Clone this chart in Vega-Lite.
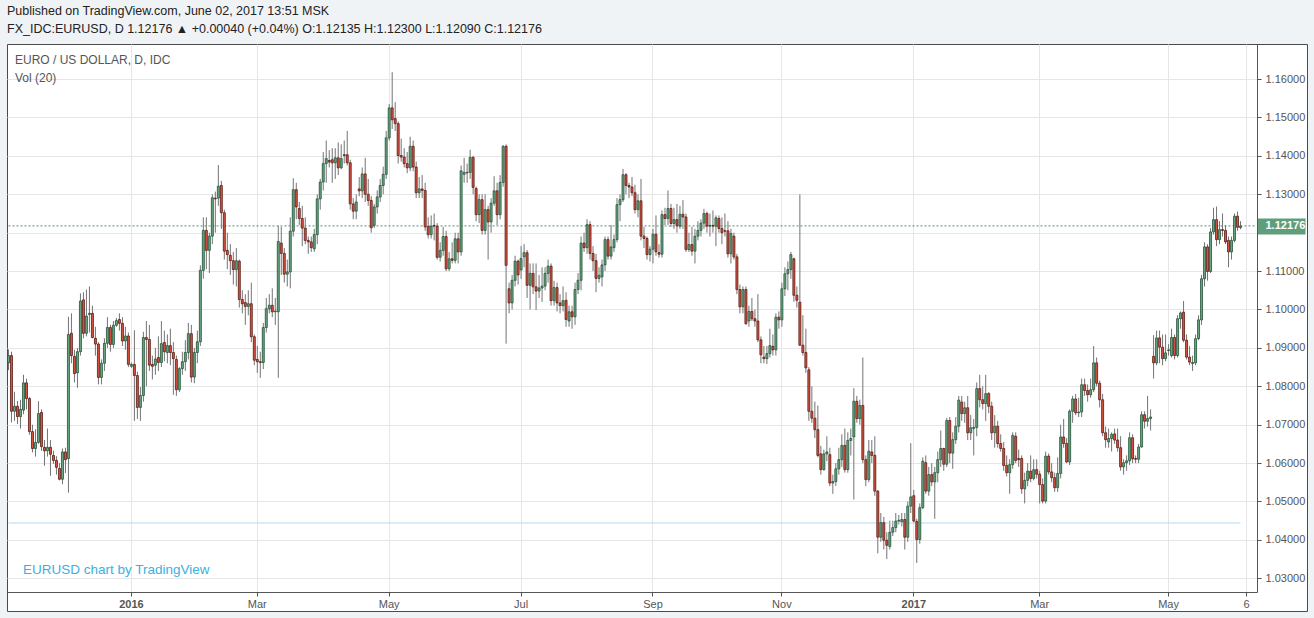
{
"$schema":"https://vega.github.io/schema/vega-lite/v6.json",
"width":1300,"height":567,
"autosize":{"type":"none"},
"padding":{"left":7,"top":44,"right":7,"bottom":7},
"background":"#f0f3f6",
"title":{"text":"Published on TradingView.com, June 02, 2017 13:51 MSK","subtitle":"FX_IDC:EURUSD, D  1.12176 ▲ +0.00040 (+0.04%)  O:1.12135  H:1.12300  L:1.12090  C:1.12176","anchor":"start","frame":"group","offset":9,"font":"Liberation Sans","fontSize":12.5,"fontWeight":"normal","color":"#222222","subtitleFont":"Liberation Sans","subtitleFontSize":12.5,"subtitleColor":"#222222","subtitlePadding":5},
"config":{"view":{"stroke":"#4a4a4a","fill":"#ffffff"}},
"resolve":{"axis":{"x":"independent","y":"independent"}},
"data":{"values":[
{"d":"2015-11-05","o":1.0861,"h":1.0896,"l":1.0842,"c":1.0880},
{"d":"2015-11-06","o":1.0880,"h":1.0890,"l":1.0706,"c":1.0735},
{"d":"2015-11-09","o":1.0735,"h":1.0786,"l":1.0710,"c":1.0748},
{"d":"2015-11-10","o":1.0748,"h":1.0762,"l":1.0702,"c":1.0721},
{"d":"2015-11-11","o":1.0721,"h":1.0765,"l":1.0690,"c":1.0740},
{"d":"2015-11-12","o":1.0738,"h":1.0830,"l":1.0727,"c":1.0809},
{"d":"2015-11-13","o":1.0809,"h":1.0820,"l":1.0740,"c":1.0768},
{"d":"2015-11-16","o":1.0768,"h":1.0772,"l":1.0674,"c":1.0682},
{"d":"2015-11-17","o":1.0682,"h":1.0700,"l":1.0628,"c":1.0638},
{"d":"2015-11-18","o":1.0638,"h":1.0688,"l":1.0617,"c":1.0654},
{"d":"2015-11-19","o":1.0654,"h":1.0761,"l":1.0650,"c":1.0729},
{"d":"2015-11-20","o":1.0732,"h":1.0740,"l":1.0632,"c":1.0643},
{"d":"2015-11-23","o":1.0641,"h":1.0660,"l":1.0593,"c":1.0632},
{"d":"2015-11-24","o":1.0632,"h":1.0690,"l":1.0617,"c":1.0641},
{"d":"2015-11-25","o":1.0641,"h":1.0660,"l":1.0567,"c":1.0623},
{"d":"2015-11-26","o":1.0620,"h":1.0632,"l":1.0598,"c":1.0607},
{"d":"2015-11-27","o":1.0607,"h":1.0618,"l":1.0570,"c":1.0589},
{"d":"2015-11-30","o":1.0586,"h":1.0600,"l":1.0555,"c":1.0558},
{"d":"2015-12-01","o":1.0558,"h":1.0638,"l":1.0545,"c":1.0629},
{"d":"2015-12-02","o":1.0629,"h":1.0640,"l":1.0574,"c":1.0609},
{"d":"2015-12-03","o":1.0612,"h":1.0981,"l":1.0523,"c":1.0935},
{"d":"2015-12-04","o":1.0938,"h":1.0990,"l":1.0860,"c":1.0880},
{"d":"2015-12-07","o":1.0878,"h":1.0895,"l":1.0810,"c":1.0833},
{"d":"2015-12-08","o":1.0835,"h":1.0900,"l":1.0796,"c":1.0890},
{"d":"2015-12-09","o":1.0890,"h":1.1042,"l":1.0880,"c":1.1022},
{"d":"2015-12-10","o":1.1025,"h":1.1045,"l":1.0925,"c":1.0938},
{"d":"2015-12-11","o":1.0938,"h":1.1052,"l":1.0930,"c":1.0983},
{"d":"2015-12-14","o":1.0987,"h":1.1060,"l":1.0940,"c":1.0990},
{"d":"2015-12-15","o":1.0990,"h":1.1010,"l":1.0925,"c":1.0927},
{"d":"2015-12-16","o":1.0925,"h":1.0955,"l":1.0880,"c":1.0910},
{"d":"2015-12-17","o":1.0910,"h":1.0915,"l":1.0805,"c":1.0823},
{"d":"2015-12-18","o":1.0823,"h":1.0870,"l":1.0805,"c":1.0860},
{"d":"2015-12-21","o":1.0860,"h":1.0925,"l":1.0840,"c":1.0912},
{"d":"2015-12-22","o":1.0912,"h":1.0980,"l":1.0900,"c":1.0953},
{"d":"2015-12-23","o":1.0953,"h":1.0960,"l":1.0890,"c":1.0909},
{"d":"2015-12-24","o":1.0909,"h":1.0970,"l":1.0900,"c":1.0959},
{"d":"2015-12-25","o":1.0959,"h":1.0978,"l":1.0955,"c":1.0971},
{"d":"2015-12-28","o":1.0974,"h":1.0990,"l":1.0945,"c":1.0964},
{"d":"2015-12-29","o":1.0964,"h":1.0980,"l":1.0905,"c":1.0918},
{"d":"2015-12-30","o":1.0918,"h":1.0955,"l":1.0895,"c":1.0931},
{"d":"2015-12-31","o":1.0931,"h":1.0940,"l":1.0850,"c":1.0857},
{"d":"2016-01-01","o":1.0852,"h":1.0862,"l":1.0848,"c":1.0857},
{"d":"2016-01-04","o":1.0857,"h":1.0946,"l":1.0710,"c":1.0828},
{"d":"2016-01-05","o":1.0828,"h":1.0838,"l":1.0715,"c":1.0745},
{"d":"2016-01-06","o":1.0745,"h":1.0798,"l":1.0710,"c":1.0776},
{"d":"2016-01-07","o":1.0776,"h":1.0942,"l":1.0760,"c":1.0927},
{"d":"2016-01-08","o":1.0927,"h":1.0970,"l":1.0800,"c":1.0922},
{"d":"2016-01-11","o":1.0922,"h":1.0960,"l":1.0840,"c":1.0855},
{"d":"2016-01-12","o":1.0857,"h":1.0880,"l":1.0818,"c":1.0852},
{"d":"2016-01-13","o":1.0855,"h":1.0900,"l":1.0830,"c":1.0871},
{"d":"2016-01-14","o":1.0875,"h":1.0930,"l":1.0840,"c":1.0862},
{"d":"2016-01-15","o":1.0862,"h":1.0970,"l":1.0850,"c":1.0911},
{"d":"2016-01-18","o":1.0914,"h":1.0945,"l":1.0865,"c":1.0890},
{"d":"2016-01-19","o":1.0888,"h":1.0935,"l":1.0860,"c":1.0906},
{"d":"2016-01-20","o":1.0906,"h":1.0950,"l":1.0855,"c":1.0888},
{"d":"2016-01-21","o":1.0888,"h":1.0915,"l":1.0778,"c":1.0872},
{"d":"2016-01-22","o":1.0870,"h":1.0880,"l":1.0775,"c":1.0791},
{"d":"2016-01-25","o":1.0791,"h":1.0850,"l":1.0785,"c":1.0846},
{"d":"2016-01-26","o":1.0846,"h":1.0890,"l":1.0830,"c":1.0864},
{"d":"2016-01-27","o":1.0864,"h":1.0920,"l":1.0840,"c":1.0888},
{"d":"2016-01-28","o":1.0888,"h":1.0965,"l":1.0870,"c":1.0937},
{"d":"2016-01-29","o":1.0937,"h":1.0960,"l":1.0810,"c":1.0824},
{"d":"2016-02-01","o":1.0824,"h":1.0900,"l":1.0808,"c":1.0888},
{"d":"2016-02-02","o":1.0888,"h":1.0945,"l":1.0860,"c":1.0916},
{"d":"2016-02-03","o":1.0916,"h":1.1115,"l":1.0905,"c":1.1102},
{"d":"2016-02-04","o":1.1102,"h":1.1240,"l":1.1080,"c":1.1206},
{"d":"2016-02-05","o":1.1206,"h":1.1240,"l":1.1105,"c":1.1154},
{"d":"2016-02-08","o":1.1154,"h":1.1200,"l":1.1095,"c":1.1191},
{"d":"2016-02-09","o":1.1191,"h":1.1300,"l":1.1170,"c":1.1291},
{"d":"2016-02-10","o":1.1290,"h":1.1307,"l":1.1200,"c":1.1288},
{"d":"2016-02-11","o":1.1290,"h":1.1376,"l":1.1270,"c":1.1321},
{"d":"2016-02-12","o":1.1323,"h":1.1335,"l":1.1210,"c":1.1252},
{"d":"2016-02-15","o":1.1252,"h":1.1260,"l":1.1130,"c":1.1152},
{"d":"2016-02-16","o":1.1154,"h":1.1200,"l":1.1105,"c":1.1143},
{"d":"2016-02-17","o":1.1141,"h":1.1170,"l":1.1090,"c":1.1127},
{"d":"2016-02-18","o":1.1127,"h":1.1150,"l":1.1065,"c":1.1104},
{"d":"2016-02-19","o":1.1104,"h":1.1160,"l":1.1060,"c":1.1127},
{"d":"2016-02-22","o":1.1126,"h":1.1130,"l":1.1005,"c":1.1026},
{"d":"2016-02-23","o":1.1026,"h":1.1050,"l":1.0990,"c":1.1015},
{"d":"2016-02-24","o":1.1018,"h":1.1040,"l":1.0960,"c":1.1008},
{"d":"2016-02-25","o":1.1008,"h":1.1050,"l":1.0985,"c":1.1015},
{"d":"2016-02-26","o":1.1015,"h":1.1070,"l":1.0915,"c":1.0929},
{"d":"2016-02-29","o":1.0929,"h":1.0935,"l":1.0855,"c":1.0868},
{"d":"2016-03-01","o":1.0870,"h":1.0905,"l":1.0835,"c":1.0864},
{"d":"2016-03-02","o":1.0864,"h":1.0890,"l":1.0822,"c":1.0862},
{"d":"2016-03-03","o":1.0862,"h":1.0965,"l":1.0845,"c":1.0953},
{"d":"2016-03-04","o":1.0953,"h":1.1030,"l":1.0940,"c":1.1002},
{"d":"2016-03-07","o":1.1002,"h":1.1040,"l":1.0990,"c":1.1011},
{"d":"2016-03-08","o":1.1011,"h":1.1055,"l":1.0980,"c":1.0994},
{"d":"2016-03-09","o":1.0994,"h":1.1030,"l":1.0960,"c":1.0996},
{"d":"2016-03-10","o":1.0994,"h":1.1218,"l":1.0822,"c":1.1177},
{"d":"2016-03-11","o":1.1173,"h":1.1215,"l":1.1090,"c":1.1146},
{"d":"2016-03-14","o":1.1146,"h":1.1160,"l":1.1070,"c":1.1092},
{"d":"2016-03-15","o":1.1092,"h":1.1130,"l":1.1060,"c":1.1098},
{"d":"2016-03-16","o":1.1098,"h":1.1240,"l":1.1055,"c":1.1204},
{"d":"2016-03-17","o":1.1204,"h":1.1342,"l":1.1190,"c":1.1312},
{"d":"2016-03-18","o":1.1312,"h":1.1330,"l":1.1235,"c":1.1267},
{"d":"2016-03-21","o":1.1263,"h":1.1280,"l":1.1220,"c":1.1237},
{"d":"2016-03-22","o":1.1237,"h":1.1270,"l":1.1165,"c":1.1212},
{"d":"2016-03-23","o":1.1212,"h":1.1240,"l":1.1170,"c":1.1180},
{"d":"2016-03-24","o":1.1180,"h":1.1190,"l":1.1145,"c":1.1176},
{"d":"2016-03-25","o":1.1176,"h":1.1190,"l":1.1150,"c":1.1161},
{"d":"2016-03-28","o":1.1158,"h":1.1210,"l":1.1150,"c":1.1195},
{"d":"2016-03-29","o":1.1195,"h":1.1300,"l":1.1170,"c":1.1288},
{"d":"2016-03-30","o":1.1288,"h":1.1340,"l":1.1260,"c":1.1332},
{"d":"2016-03-31","o":1.1332,"h":1.1410,"l":1.1310,"c":1.1380},
{"d":"2016-04-01","o":1.1380,"h":1.1440,"l":1.1330,"c":1.1393},
{"d":"2016-04-04","o":1.1388,"h":1.1415,"l":1.1370,"c":1.1384},
{"d":"2016-04-05","o":1.1390,"h":1.1420,"l":1.1330,"c":1.1382},
{"d":"2016-04-06","o":1.1382,"h":1.1420,"l":1.1340,"c":1.1395},
{"d":"2016-04-07","o":1.1395,"h":1.1435,"l":1.1350,"c":1.1369},
{"d":"2016-04-08","o":1.1369,"h":1.1430,"l":1.1365,"c":1.1393},
{"d":"2016-04-11","o":1.1403,"h":1.1440,"l":1.1380,"c":1.1401},
{"d":"2016-04-12","o":1.1403,"h":1.1465,"l":1.1375,"c":1.1382},
{"d":"2016-04-13","o":1.1382,"h":1.1390,"l":1.1260,"c":1.1275},
{"d":"2016-04-14","o":1.1275,"h":1.1290,"l":1.1235,"c":1.1256},
{"d":"2016-04-15","o":1.1256,"h":1.1300,"l":1.1235,"c":1.1280},
{"d":"2016-04-18","o":1.1314,"h":1.1345,"l":1.1295,"c":1.1309},
{"d":"2016-04-19","o":1.1309,"h":1.1370,"l":1.1290,"c":1.1353},
{"d":"2016-04-20","o":1.1353,"h":1.1395,"l":1.1280,"c":1.1300},
{"d":"2016-04-21","o":1.1300,"h":1.1340,"l":1.1270,"c":1.1284},
{"d":"2016-04-22","o":1.1284,"h":1.1295,"l":1.1200,"c":1.1213},
{"d":"2016-04-25","o":1.1219,"h":1.1275,"l":1.1212,"c":1.1267},
{"d":"2016-04-26","o":1.1267,"h":1.1310,"l":1.1250,"c":1.1293},
{"d":"2016-04-27","o":1.1293,"h":1.1340,"l":1.1280,"c":1.1323},
{"d":"2016-04-28","o":1.1323,"h":1.1372,"l":1.1300,"c":1.1352},
{"d":"2016-04-29","o":1.1352,"h":1.1465,"l":1.1340,"c":1.1447},
{"d":"2016-05-02","o":1.1447,"h":1.1535,"l":1.1440,"c":1.1525},
{"d":"2016-05-03","o":1.1525,"h":1.1618,"l":1.1470,"c":1.1494},
{"d":"2016-05-04","o":1.1497,"h":1.1540,"l":1.1465,"c":1.1484},
{"d":"2016-05-05","o":1.1484,"h":1.1490,"l":1.1380,"c":1.1401},
{"d":"2016-05-06","o":1.1401,"h":1.1445,"l":1.1385,"c":1.1397},
{"d":"2016-05-09","o":1.1397,"h":1.1420,"l":1.1370,"c":1.1380},
{"d":"2016-05-10","o":1.1380,"h":1.1410,"l":1.1355,"c":1.1369},
{"d":"2016-05-11","o":1.1369,"h":1.1450,"l":1.1360,"c":1.1425},
{"d":"2016-05-12","o":1.1425,"h":1.1440,"l":1.1360,"c":1.1371},
{"d":"2016-05-13","o":1.1371,"h":1.1385,"l":1.1290,"c":1.1304},
{"d":"2016-05-16","o":1.1304,"h":1.1345,"l":1.1290,"c":1.1314},
{"d":"2016-05-17","o":1.1314,"h":1.1350,"l":1.1290,"c":1.1310},
{"d":"2016-05-18","o":1.1310,"h":1.1330,"l":1.1205,"c":1.1215},
{"d":"2016-05-19","o":1.1216,"h":1.1240,"l":1.1185,"c":1.1195},
{"d":"2016-05-20","o":1.1195,"h":1.1245,"l":1.1185,"c":1.1217},
{"d":"2016-05-23","o":1.1219,"h":1.1250,"l":1.1180,"c":1.1217},
{"d":"2016-05-24","o":1.1217,"h":1.1225,"l":1.1130,"c":1.1136},
{"d":"2016-05-25","o":1.1136,"h":1.1175,"l":1.1125,"c":1.1154},
{"d":"2016-05-26","o":1.1154,"h":1.1215,"l":1.1140,"c":1.1190},
{"d":"2016-05-27","o":1.1190,"h":1.1205,"l":1.1100,"c":1.1106},
{"d":"2016-05-30","o":1.1106,"h":1.1150,"l":1.1100,"c":1.1132},
{"d":"2016-05-31","o":1.1132,"h":1.1175,"l":1.1120,"c":1.1128},
{"d":"2016-06-01","o":1.1128,"h":1.1200,"l":1.1120,"c":1.1184},
{"d":"2016-06-02","o":1.1184,"h":1.1200,"l":1.1120,"c":1.1150},
{"d":"2016-06-03","o":1.1150,"h":1.1375,"l":1.1140,"c":1.1361},
{"d":"2016-06-06","o":1.1352,"h":1.1395,"l":1.1330,"c":1.1357},
{"d":"2016-06-07","o":1.1357,"h":1.1380,"l":1.1330,"c":1.1356},
{"d":"2016-06-08","o":1.1357,"h":1.1416,"l":1.1340,"c":1.1396},
{"d":"2016-06-09","o":1.1396,"h":1.1400,"l":1.1300,"c":1.1318},
{"d":"2016-06-10","o":1.1315,"h":1.1320,"l":1.1230,"c":1.1247},
{"d":"2016-06-13","o":1.1247,"h":1.1300,"l":1.1225,"c":1.1286},
{"d":"2016-06-14","o":1.1286,"h":1.1300,"l":1.1195,"c":1.1206},
{"d":"2016-06-15","o":1.1206,"h":1.1300,"l":1.1195,"c":1.1260},
{"d":"2016-06-16","o":1.1260,"h":1.1270,"l":1.1130,"c":1.1228},
{"d":"2016-06-17","o":1.1228,"h":1.1290,"l":1.1200,"c":1.1277},
{"d":"2016-06-20","o":1.1277,"h":1.1347,"l":1.1270,"c":1.1309},
{"d":"2016-06-21","o":1.1309,"h":1.1330,"l":1.1220,"c":1.1247},
{"d":"2016-06-22","o":1.1247,"h":1.1350,"l":1.1235,"c":1.1331},
{"d":"2016-06-23","o":1.1331,"h":1.1428,"l":1.1320,"c":1.1425},
{"d":"2016-06-24","o":1.1425,"h":1.1430,"l":1.0911,"c":1.1115},
{"d":"2016-06-27","o":1.1054,"h":1.1070,"l":1.0990,"c":1.1017},
{"d":"2016-06-28","o":1.1017,"h":1.1090,"l":1.1000,"c":1.1076},
{"d":"2016-06-29","o":1.1076,"h":1.1140,"l":1.1060,"c":1.1126},
{"d":"2016-06-30","o":1.1126,"h":1.1130,"l":1.1065,"c":1.1090},
{"d":"2016-07-01","o":1.1103,"h":1.1165,"l":1.1080,"c":1.1133},
{"d":"2016-07-04","o":1.1137,"h":1.1170,"l":1.1110,"c":1.1148},
{"d":"2016-07-05","o":1.1148,"h":1.1155,"l":1.1030,"c":1.1063},
{"d":"2016-07-06","o":1.1063,"h":1.1120,"l":1.1000,"c":1.1094},
{"d":"2016-07-07","o":1.1094,"h":1.1120,"l":1.1040,"c":1.1059},
{"d":"2016-07-08","o":1.1059,"h":1.1120,"l":1.0999,"c":1.1048},
{"d":"2016-07-11","o":1.1048,"h":1.1090,"l":1.1030,"c":1.1056},
{"d":"2016-07-12","o":1.1056,"h":1.1110,"l":1.1020,"c":1.1061},
{"d":"2016-07-13","o":1.1061,"h":1.1110,"l":1.1050,"c":1.1094},
{"d":"2016-07-14","o":1.1094,"h":1.1130,"l":1.1070,"c":1.1113},
{"d":"2016-07-15","o":1.1113,"h":1.1120,"l":1.1010,"c":1.1023},
{"d":"2016-07-18","o":1.1023,"h":1.1075,"l":1.1010,"c":1.1057},
{"d":"2016-07-19","o":1.1057,"h":1.1070,"l":1.0995,"c":1.1017},
{"d":"2016-07-20","o":1.1017,"h":1.1040,"l":1.0990,"c":1.1010},
{"d":"2016-07-21","o":1.1010,"h":1.1060,"l":1.0995,"c":1.1023},
{"d":"2016-07-22","o":1.1024,"h":1.1045,"l":1.0955,"c":1.0974},
{"d":"2016-07-25","o":1.0970,"h":1.1010,"l":1.0955,"c":1.0994},
{"d":"2016-07-26","o":1.0994,"h":1.1010,"l":1.0950,"c":1.0981},
{"d":"2016-07-27","o":1.0981,"h":1.1070,"l":1.0960,"c":1.1052},
{"d":"2016-07-28","o":1.1052,"h":1.1095,"l":1.1040,"c":1.1076},
{"d":"2016-07-29","o":1.1076,"h":1.1190,"l":1.1050,"c":1.1173},
{"d":"2016-08-01","o":1.1173,"h":1.1200,"l":1.1150,"c":1.1161},
{"d":"2016-08-02","o":1.1161,"h":1.1235,"l":1.1145,"c":1.1221},
{"d":"2016-08-03","o":1.1221,"h":1.1230,"l":1.1130,"c":1.1146},
{"d":"2016-08-04","o":1.1146,"h":1.1165,"l":1.1100,"c":1.1127},
{"d":"2016-08-05","o":1.1127,"h":1.1145,"l":1.1045,"c":1.1081},
{"d":"2016-08-08","o":1.1081,"h":1.1110,"l":1.1070,"c":1.1089},
{"d":"2016-08-09","o":1.1085,"h":1.1130,"l":1.1060,"c":1.1116},
{"d":"2016-08-10","o":1.1116,"h":1.1190,"l":1.1100,"c":1.1182},
{"d":"2016-08-11","o":1.1182,"h":1.1190,"l":1.1130,"c":1.1139},
{"d":"2016-08-12","o":1.1139,"h":1.1220,"l":1.1130,"c":1.1163},
{"d":"2016-08-15","o":1.1161,"h":1.1195,"l":1.1150,"c":1.1182},
{"d":"2016-08-16","o":1.1182,"h":1.1290,"l":1.1175,"c":1.1273},
{"d":"2016-08-17","o":1.1273,"h":1.1300,"l":1.1230,"c":1.1286},
{"d":"2016-08-18","o":1.1286,"h":1.1366,"l":1.1280,"c":1.1351},
{"d":"2016-08-19","o":1.1351,"h":1.1355,"l":1.1300,"c":1.1323},
{"d":"2016-08-22","o":1.1323,"h":1.1330,"l":1.1290,"c":1.1319},
{"d":"2016-08-23","o":1.1319,"h":1.1345,"l":1.1295,"c":1.1304},
{"d":"2016-08-24","o":1.1304,"h":1.1325,"l":1.1250,"c":1.1260},
{"d":"2016-08-25","o":1.1260,"h":1.1300,"l":1.1240,"c":1.1283},
{"d":"2016-08-26","o":1.1283,"h":1.1340,"l":1.1180,"c":1.1191},
{"d":"2016-08-29","o":1.1191,"h":1.1215,"l":1.1160,"c":1.1185},
{"d":"2016-08-30","o":1.1185,"h":1.1190,"l":1.1130,"c":1.1143},
{"d":"2016-08-31","o":1.1143,"h":1.1165,"l":1.1125,"c":1.1157},
{"d":"2016-09-01","o":1.1157,"h":1.1210,"l":1.1120,"c":1.1196},
{"d":"2016-09-02","o":1.1196,"h":1.1245,"l":1.1140,"c":1.1150},
{"d":"2016-09-05","o":1.1148,"h":1.1170,"l":1.1135,"c":1.1144},
{"d":"2016-09-06","o":1.1144,"h":1.1258,"l":1.1135,"c":1.1247},
{"d":"2016-09-07","o":1.1247,"h":1.1265,"l":1.1220,"c":1.1237},
{"d":"2016-09-08","o":1.1237,"h":1.1310,"l":1.1220,"c":1.1263},
{"d":"2016-09-09","o":1.1263,"h":1.1275,"l":1.1215,"c":1.1224},
{"d":"2016-09-12","o":1.1224,"h":1.1265,"l":1.1210,"c":1.1234},
{"d":"2016-09-13","o":1.1234,"h":1.1275,"l":1.1200,"c":1.1218},
{"d":"2016-09-14","o":1.1217,"h":1.1270,"l":1.1210,"c":1.1248},
{"d":"2016-09-15","o":1.1248,"h":1.1285,"l":1.1210,"c":1.1241},
{"d":"2016-09-16","o":1.1241,"h":1.1250,"l":1.1150,"c":1.1156},
{"d":"2016-09-19","o":1.1156,"h":1.1200,"l":1.1150,"c":1.1169},
{"d":"2016-09-20","o":1.1169,"h":1.1215,"l":1.1140,"c":1.1152},
{"d":"2016-09-21","o":1.1152,"h":1.1210,"l":1.1120,"c":1.1191},
{"d":"2016-09-22","o":1.1191,"h":1.1230,"l":1.1180,"c":1.1206},
{"d":"2016-09-23","o":1.1206,"h":1.1235,"l":1.1190,"c":1.1225},
{"d":"2016-09-26","o":1.1225,"h":1.1262,"l":1.1210,"c":1.1250},
{"d":"2016-09-27","o":1.1250,"h":1.1255,"l":1.1200,"c":1.1217},
{"d":"2016-09-28","o":1.1217,"h":1.1250,"l":1.1190,"c":1.1219},
{"d":"2016-09-29","o":1.1219,"h":1.1258,"l":1.1200,"c":1.1217},
{"d":"2016-09-30","o":1.1217,"h":1.1245,"l":1.1165,"c":1.1239},
{"d":"2016-10-03","o":1.1237,"h":1.1245,"l":1.1200,"c":1.1211},
{"d":"2016-10-04","o":1.1211,"h":1.1240,"l":1.1170,"c":1.1200},
{"d":"2016-10-05","o":1.1205,"h":1.1250,"l":1.1190,"c":1.1204},
{"d":"2016-10-06","o":1.1205,"h":1.1230,"l":1.1135,"c":1.1145},
{"d":"2016-10-07","o":1.1145,"h":1.1210,"l":1.1120,"c":1.1198},
{"d":"2016-10-10","o":1.1191,"h":1.1200,"l":1.1130,"c":1.1137},
{"d":"2016-10-11","o":1.1137,"h":1.1145,"l":1.1040,"c":1.1052},
{"d":"2016-10-12","o":1.1052,"h":1.1065,"l":1.0990,"c":1.1007},
{"d":"2016-10-13","o":1.1007,"h":1.1060,"l":1.0990,"c":1.1052},
{"d":"2016-10-14","o":1.1052,"h":1.1060,"l":1.0960,"c":1.0963},
{"d":"2016-10-17","o":1.0970,"h":1.1010,"l":1.0955,"c":1.0995},
{"d":"2016-10-18","o":1.0995,"h":1.1030,"l":1.0970,"c":1.0976},
{"d":"2016-10-19","o":1.0976,"h":1.1000,"l":1.0955,"c":1.0970},
{"d":"2016-10-20","o":1.0970,"h":1.1040,"l":1.0915,"c":1.0921},
{"d":"2016-10-21","o":1.0921,"h":1.0930,"l":1.0860,"c":1.0882},
{"d":"2016-10-24","o":1.0876,"h":1.0905,"l":1.0860,"c":1.0872},
{"d":"2016-10-25","o":1.0872,"h":1.0905,"l":1.0858,"c":1.0885},
{"d":"2016-10-26","o":1.0885,"h":1.0950,"l":1.0875,"c":1.0906},
{"d":"2016-10-27","o":1.0904,"h":1.0935,"l":1.0880,"c":1.0895},
{"d":"2016-10-28","o":1.0895,"h":1.0990,"l":1.0880,"c":1.0980},
{"d":"2016-10-31","o":1.0980,"h":1.0995,"l":1.0950,"c":1.0973},
{"d":"2016-11-01","o":1.0973,"h":1.1070,"l":1.0955,"c":1.1054},
{"d":"2016-11-02","o":1.1054,"h":1.1110,"l":1.1035,"c":1.1093},
{"d":"2016-11-03","o":1.1093,"h":1.1125,"l":1.1050,"c":1.1104},
{"d":"2016-11-04","o":1.1104,"h":1.1150,"l":1.1080,"c":1.1143},
{"d":"2016-11-07","o":1.1132,"h":1.1135,"l":1.1020,"c":1.1037},
{"d":"2016-11-08","o":1.1037,"h":1.1060,"l":1.1005,"c":1.1024},
{"d":"2016-11-09","o":1.1019,"h":1.1300,"l":1.0905,"c":1.0907},
{"d":"2016-11-10","o":1.0907,"h":1.0985,"l":1.0880,"c":1.0888},
{"d":"2016-11-11","o":1.0888,"h":1.0950,"l":1.0835,"c":1.0848},
{"d":"2016-11-14","o":1.0843,"h":1.0850,"l":1.0710,"c":1.0735},
{"d":"2016-11-15","o":1.0735,"h":1.0800,"l":1.0705,"c":1.0717},
{"d":"2016-11-16","o":1.0717,"h":1.0760,"l":1.0665,"c":1.0687},
{"d":"2016-11-17","o":1.0687,"h":1.0750,"l":1.0615,"c":1.0620},
{"d":"2016-11-18","o":1.0624,"h":1.0645,"l":1.0570,"c":1.0583},
{"d":"2016-11-21","o":1.0583,"h":1.0635,"l":1.0580,"c":1.0624},
{"d":"2016-11-22","o":1.0624,"h":1.0670,"l":1.0605,"c":1.0629},
{"d":"2016-11-23","o":1.0622,"h":1.0640,"l":1.0540,"c":1.0548},
{"d":"2016-11-24","o":1.0548,"h":1.0570,"l":1.0520,"c":1.0552},
{"d":"2016-11-25","o":1.0552,"h":1.0600,"l":1.0540,"c":1.0585},
{"d":"2016-11-28","o":1.0585,"h":1.0640,"l":1.0570,"c":1.0609},
{"d":"2016-11-29","o":1.0609,"h":1.0675,"l":1.0590,"c":1.0646},
{"d":"2016-11-30","o":1.0646,"h":1.0690,"l":1.0575,"c":1.0583},
{"d":"2016-12-01","o":1.0583,"h":1.0680,"l":1.0575,"c":1.0659},
{"d":"2016-12-02","o":1.0659,"h":1.0690,"l":1.0620,"c":1.0664},
{"d":"2016-12-05","o":1.0668,"h":1.0795,"l":1.0505,"c":1.0761},
{"d":"2016-12-06","o":1.0761,"h":1.0775,"l":1.0705,"c":1.0716},
{"d":"2016-12-07","o":1.0716,"h":1.0765,"l":1.0700,"c":1.0750},
{"d":"2016-12-08","o":1.0750,"h":1.0875,"l":1.0600,"c":1.0609},
{"d":"2016-12-09","o":1.0609,"h":1.0620,"l":1.0540,"c":1.0557},
{"d":"2016-12-12","o":1.0557,"h":1.0660,"l":1.0550,"c":1.0631},
{"d":"2016-12-13","o":1.0629,"h":1.0660,"l":1.0600,"c":1.0620},
{"d":"2016-12-14","o":1.0620,"h":1.0670,"l":1.0515,"c":1.0527},
{"d":"2016-12-15","o":1.0527,"h":1.0530,"l":1.0365,"c":1.0407},
{"d":"2016-12-16","o":1.0407,"h":1.0470,"l":1.0395,"c":1.0445},
{"d":"2016-12-19","o":1.0445,"h":1.0460,"l":1.0375,"c":1.0399},
{"d":"2016-12-20","o":1.0399,"h":1.0420,"l":1.0350,"c":1.0386},
{"d":"2016-12-21","o":1.0383,"h":1.0450,"l":1.0375,"c":1.0420},
{"d":"2016-12-22","o":1.0420,"h":1.0450,"l":1.0410,"c":1.0432},
{"d":"2016-12-23","o":1.0432,"h":1.0470,"l":1.0420,"c":1.0449},
{"d":"2016-12-26","o":1.0449,"h":1.0465,"l":1.0440,"c":1.0451},
{"d":"2016-12-27","o":1.0447,"h":1.0470,"l":1.0435,"c":1.0453},
{"d":"2016-12-28","o":1.0453,"h":1.0470,"l":1.0375,"c":1.0407},
{"d":"2016-12-29","o":1.0407,"h":1.0500,"l":1.0395,"c":1.0488},
{"d":"2016-12-30","o":1.0488,"h":1.0652,"l":1.0470,"c":1.0512},
{"d":"2017-01-02","o":1.0515,"h":1.0530,"l":1.0445,"c":1.0449},
{"d":"2017-01-03","o":1.0448,"h":1.0455,"l":1.0340,"c":1.0401},
{"d":"2017-01-04","o":1.0401,"h":1.0495,"l":1.0390,"c":1.0484},
{"d":"2017-01-05","o":1.0484,"h":1.0615,"l":1.0480,"c":1.0605},
{"d":"2017-01-06","o":1.0601,"h":1.0620,"l":1.0520,"c":1.0527},
{"d":"2017-01-09","o":1.0527,"h":1.0590,"l":1.0515,"c":1.0570},
{"d":"2017-01-10","o":1.0570,"h":1.0600,"l":1.0540,"c":1.0551},
{"d":"2017-01-11","o":1.0551,"h":1.0590,"l":1.0455,"c":1.0575},
{"d":"2017-01-12","o":1.0575,"h":1.0630,"l":1.0550,"c":1.0609},
{"d":"2017-01-13","o":1.0609,"h":1.0685,"l":1.0590,"c":1.0638},
{"d":"2017-01-16","o":1.0638,"h":1.0640,"l":1.0580,"c":1.0597},
{"d":"2017-01-17","o":1.0597,"h":1.0718,"l":1.0590,"c":1.0711},
{"d":"2017-01-18","o":1.0711,"h":1.0720,"l":1.0600,"c":1.0626},
{"d":"2017-01-19","o":1.0626,"h":1.0680,"l":1.0585,"c":1.0661},
{"d":"2017-01-20","o":1.0661,"h":1.0720,"l":1.0650,"c":1.0696},
{"d":"2017-01-23","o":1.0696,"h":1.0775,"l":1.0680,"c":1.0764},
{"d":"2017-01-24","o":1.0759,"h":1.0775,"l":1.0710,"c":1.0729},
{"d":"2017-01-25","o":1.0729,"h":1.0760,"l":1.0705,"c":1.0744},
{"d":"2017-01-26","o":1.0744,"h":1.0775,"l":1.0660,"c":1.0679},
{"d":"2017-01-27","o":1.0679,"h":1.0725,"l":1.0660,"c":1.0692},
{"d":"2017-01-30","o":1.0690,"h":1.0715,"l":1.0620,"c":1.0693},
{"d":"2017-01-31","o":1.0693,"h":1.0810,"l":1.0670,"c":1.0794},
{"d":"2017-02-01","o":1.0794,"h":1.0830,"l":1.0745,"c":1.0765},
{"d":"2017-02-02","o":1.0765,"h":1.0800,"l":1.0740,"c":1.0755},
{"d":"2017-02-03","o":1.0755,"h":1.0830,"l":1.0710,"c":1.0781},
{"d":"2017-02-06","o":1.0781,"h":1.0785,"l":1.0730,"c":1.0748},
{"d":"2017-02-07","o":1.0748,"h":1.0760,"l":1.0660,"c":1.0679},
{"d":"2017-02-08","o":1.0679,"h":1.0725,"l":1.0640,"c":1.0696},
{"d":"2017-02-09","o":1.0696,"h":1.0710,"l":1.0640,"c":1.0651},
{"d":"2017-02-10","o":1.0651,"h":1.0675,"l":1.0630,"c":1.0638},
{"d":"2017-02-13","o":1.0638,"h":1.0655,"l":1.0580,"c":1.0594},
{"d":"2017-02-14","o":1.0594,"h":1.0620,"l":1.0565,"c":1.0575},
{"d":"2017-02-15","o":1.0575,"h":1.0610,"l":1.0520,"c":1.0596},
{"d":"2017-02-16","o":1.0596,"h":1.0680,"l":1.0585,"c":1.0672},
{"d":"2017-02-17","o":1.0670,"h":1.0680,"l":1.0600,"c":1.0607},
{"d":"2017-02-20","o":1.0612,"h":1.0635,"l":1.0590,"c":1.0609},
{"d":"2017-02-21","o":1.0612,"h":1.0620,"l":1.0520,"c":1.0533},
{"d":"2017-02-22","o":1.0533,"h":1.0575,"l":1.0495,"c":1.0555},
{"d":"2017-02-23","o":1.0555,"h":1.0600,"l":1.0540,"c":1.0579},
{"d":"2017-02-24","o":1.0579,"h":1.0620,"l":1.0550,"c":1.0560},
{"d":"2017-02-27","o":1.0560,"h":1.0610,"l":1.0555,"c":1.0583},
{"d":"2017-02-28","o":1.0583,"h":1.0610,"l":1.0560,"c":1.0571},
{"d":"2017-03-01","o":1.0571,"h":1.0580,"l":1.0495,"c":1.0544},
{"d":"2017-03-02","o":1.0544,"h":1.0560,"l":1.0495,"c":1.0501},
{"d":"2017-03-03","o":1.0501,"h":1.0630,"l":1.0495,"c":1.0618},
{"d":"2017-03-06","o":1.0618,"h":1.0625,"l":1.0570,"c":1.0577},
{"d":"2017-03-07","o":1.0577,"h":1.0600,"l":1.0550,"c":1.0562},
{"d":"2017-03-08","o":1.0562,"h":1.0575,"l":1.0525,"c":1.0536},
{"d":"2017-03-09","o":1.0536,"h":1.0615,"l":1.0525,"c":1.0573},
{"d":"2017-03-10","o":1.0573,"h":1.0700,"l":1.0560,"c":1.0668},
{"d":"2017-03-13","o":1.0668,"h":1.0715,"l":1.0640,"c":1.0651},
{"d":"2017-03-14","o":1.0651,"h":1.0665,"l":1.0600,"c":1.0603},
{"d":"2017-03-15","o":1.0603,"h":1.0740,"l":1.0595,"c":1.0735},
{"d":"2017-03-16","o":1.0735,"h":1.0775,"l":1.0705,"c":1.0767},
{"d":"2017-03-17","o":1.0767,"h":1.0780,"l":1.0725,"c":1.0731},
{"d":"2017-03-20","o":1.0731,"h":1.0770,"l":1.0720,"c":1.0733},
{"d":"2017-03-21","o":1.0733,"h":1.0820,"l":1.0720,"c":1.0804},
{"d":"2017-03-22","o":1.0804,"h":1.0820,"l":1.0775,"c":1.0789},
{"d":"2017-03-23","o":1.0789,"h":1.0805,"l":1.0760,"c":1.0778},
{"d":"2017-03-24","o":1.0778,"h":1.0820,"l":1.0770,"c":1.0791},
{"d":"2017-03-27","o":1.0791,"h":1.0905,"l":1.0785,"c":1.0861},
{"d":"2017-03-28","o":1.0861,"h":1.0875,"l":1.0800,"c":1.0808},
{"d":"2017-03-29","o":1.0808,"h":1.0815,"l":1.0745,"c":1.0765},
{"d":"2017-03-30","o":1.0765,"h":1.0780,"l":1.0670,"c":1.0679},
{"d":"2017-03-31","o":1.0679,"h":1.0695,"l":1.0640,"c":1.0661},
{"d":"2017-04-03","o":1.0655,"h":1.0690,"l":1.0640,"c":1.0664},
{"d":"2017-04-04","o":1.0664,"h":1.0680,"l":1.0630,"c":1.0675},
{"d":"2017-04-05","o":1.0676,"h":1.0690,"l":1.0650,"c":1.0660},
{"d":"2017-04-06","o":1.0660,"h":1.0690,"l":1.0630,"c":1.0640},
{"d":"2017-04-07","o":1.0640,"h":1.0670,"l":1.0580,"c":1.0590},
{"d":"2017-04-10","o":1.0590,"h":1.0610,"l":1.0570,"c":1.0601},
{"d":"2017-04-11","o":1.0601,"h":1.0620,"l":1.0580,"c":1.0606},
{"d":"2017-04-12","o":1.0606,"h":1.0680,"l":1.0595,"c":1.0666},
{"d":"2017-04-13","o":1.0666,"h":1.0675,"l":1.0600,"c":1.0611},
{"d":"2017-04-14","o":1.0612,"h":1.0620,"l":1.0600,"c":1.0610},
{"d":"2017-04-17","o":1.0610,"h":1.0650,"l":1.0600,"c":1.0642},
{"d":"2017-04-18","o":1.0642,"h":1.0735,"l":1.0640,"c":1.0726},
{"d":"2017-04-19","o":1.0726,"h":1.0735,"l":1.0690,"c":1.0709},
{"d":"2017-04-20","o":1.0709,"h":1.0775,"l":1.0695,"c":1.0716},
{"d":"2017-04-21","o":1.0716,"h":1.0740,"l":1.0685,"c":1.0720},
{"d":"2017-04-24","o":1.0878,"h":1.0933,"l":1.0820,"c":1.0861},
{"d":"2017-04-25","o":1.0861,"h":1.0945,"l":1.0855,"c":1.0926},
{"d":"2017-04-26","o":1.0926,"h":1.0945,"l":1.0860,"c":1.0902},
{"d":"2017-04-27","o":1.0902,"h":1.0935,"l":1.0855,"c":1.0872},
{"d":"2017-04-28","o":1.0872,"h":1.0935,"l":1.0865,"c":1.0887},
{"d":"2017-05-01","o":1.0893,"h":1.0910,"l":1.0880,"c":1.0895},
{"d":"2017-05-02","o":1.0880,"h":1.0950,"l":1.0875,"c":1.0927},
{"d":"2017-05-03","o":1.0927,"h":1.0935,"l":1.0870,"c":1.0880},
{"d":"2017-05-04","o":1.0880,"h":1.0985,"l":1.0875,"c":1.0976},
{"d":"2017-05-05","o":1.0976,"h":1.0995,"l":1.0950,"c":1.0991},
{"d":"2017-05-08","o":1.0993,"h":1.1022,"l":1.0915,"c":1.0920},
{"d":"2017-05-09","o":1.0920,"h":1.0935,"l":1.0870,"c":1.0876},
{"d":"2017-05-10","o":1.0876,"h":1.0905,"l":1.0855,"c":1.0863},
{"d":"2017-05-11","o":1.0859,"h":1.0880,"l":1.0840,"c":1.0862},
{"d":"2017-05-12","o":1.0861,"h":1.0935,"l":1.0855,"c":1.0924},
{"d":"2017-05-15","o":1.0924,"h":1.0985,"l":1.0920,"c":1.0973},
{"d":"2017-05-16","o":1.0973,"h":1.1090,"l":1.0960,"c":1.1080},
{"d":"2017-05-17","o":1.1080,"h":1.1175,"l":1.1060,"c":1.1163},
{"d":"2017-05-18","o":1.1163,"h":1.1170,"l":1.1075,"c":1.1099},
{"d":"2017-05-19","o":1.1099,"h":1.1212,"l":1.1095,"c":1.1202},
{"d":"2017-05-22","o":1.1202,"h":1.1265,"l":1.1195,"c":1.1234},
{"d":"2017-05-23","o":1.1234,"h":1.1268,"l":1.1165,"c":1.1182},
{"d":"2017-05-24","o":1.1182,"h":1.1230,"l":1.1170,"c":1.1208},
{"d":"2017-05-25","o":1.1208,"h":1.1250,"l":1.1190,"c":1.1206},
{"d":"2017-05-26","o":1.1206,"h":1.1220,"l":1.1170,"c":1.1176},
{"d":"2017-05-29","o":1.1180,"h":1.1190,"l":1.1110,"c":1.1150},
{"d":"2017-05-30","o":1.1150,"h":1.1190,"l":1.1130,"c":1.1180},
{"d":"2017-05-31","o":1.1180,"h":1.1250,"l":1.1175,"c":1.1243},
{"d":"2017-06-01","o":1.1243,"h":1.1255,"l":1.1205,"c":1.1214},
{"d":"2017-06-02","o":1.12135,"h":1.1230,"l":1.1209,"c":1.12176}
]},
"layer":[
{"mark":{"type":"rule","color":"#737375","strokeWidth":1},
 "encoding":{
  "x":{"field":"d","type":"ordinal","scale":{"domain":{"unionWith":["2017-06-05","2017-06-06","2017-06-07","2017-06-08","2017-06-09"]},"range":[0,1250],"paddingInner":0,"paddingOuter":0},
   "axis":{"orient":"bottom","offset":-19,"title":null,"grid":false,"values":["2016-01-01","2016-03-01","2016-05-02","2016-07-01","2016-09-01","2016-11-01","2017-01-02","2017-03-01","2017-05-01","2017-06-06"],
    "labelExpr":"datum.value == '2016-01-01' ? '2016' : datum.value == '2017-01-02' ? '2017' : datum.value == '2017-06-06' ? '6' : (datum.value == '2016-03-01' || datum.value == '2017-03-01') ? 'Mar' : (datum.value == '2016-05-02' || datum.value == '2017-05-01') ? 'May' : datum.value == '2016-07-01' ? 'Jul' : datum.value == '2016-09-01' ? 'Sep' : 'Nov'",
    "domainColor":"#555555","tickColor":"#555555","tickSize":4,"labelColor":"#555555","labelFont":"Liberation Sans","labelFontSize":11,"labelPadding":2,"labelAngle":0,"labelOverlap":false,"bandPosition":0.5,
    "labelFontWeight":{"condition":{"test":"datum.value == '2016-01-01' || datum.value == '2017-01-02'","value":"bold"},"value":"normal"}}},
  "y":{"field":"l","type":"quantitative","scale":{"domain":[1.02643,1.16914],"range":[548,0],"nice":false,"zero":false},
   "axis":{"orient":"right","offset":-50,"title":null,"grid":false,"values":[1.03,1.04,1.05,1.06,1.07,1.08,1.09,1.1,1.11,1.12,1.13,1.14,1.15,1.16,1.12176],"format":".5f",
    "domainColor":"#555555",
    "tickColor":{"condition":{"test":"datum.value == 1.12176","value":"#5f9e7c"},"value":"#555555"},
    "tickSize":{"condition":{"test":"datum.value == 1.12176","value":48},"value":4},
    "tickWidth":{"condition":{"test":"datum.value == 1.12176","value":16},"value":1},
    "labelPadding":{"condition":{"test":"datum.value == 1.12176","value":-40},"value":4},
    "labelColor":{"condition":{"test":"datum.value == 1.12176","value":"#ffffff"},"value":"#555555"},
    "labelFontWeight":{"condition":{"test":"datum.value == 1.12176","value":"bold"},"value":"normal"},
    "labelOpacity":{"condition":{"test":"datum.value == 1.12","value":0},"value":1},
    "labelFont":"Liberation Sans","labelFontSize":11,"labelOverlap":false,"labelBound":false,"labelFlush":false}},
  "y2":{"field":"h"}}},
{"data":{"values":[{}]},"mark":{"type":"rule","color":"#b3daf2","strokeWidth":1},
 "encoding":{"x":{"datum":"2015-11-05","type":"ordinal","axis":null},"x2":{"datum":"2017-06-02"},"y":{"datum":1.0444,"type":"quantitative","axis":null}}},
{"data":{"values":[{}]},"mark":{"type":"rule","color":"#4f8f6b","strokeWidth":1,"strokeDash":[2,2]},
 "encoding":{"x":{"datum":"2015-11-05","type":"ordinal","axis":null},"x2":{"datum":"2017-06-09"},"y":{"datum":1.12176,"type":"quantitative","axis":null}}},
{"mark":{"type":"bar","size":2,"strokeWidth":0.8},
 "encoding":{
  "x":{"field":"d","type":"ordinal","axis":{"orient":"top","grid":true,"gridColor":"#e6e6e6","labels":false,"ticks":false,"domain":false,"title":null,"bandPosition":0.5,"values":["2016-01-01","2016-03-01","2016-05-02","2016-07-01","2016-09-01","2016-11-01","2017-01-02","2017-03-01","2017-05-01","2017-06-06"]}},
  "y":{"field":"o","type":"quantitative","axis":{"orient":"left","grid":true,"gridColor":"#e6e6e6","labels":false,"ticks":false,"domain":false,"title":null,"values":[1.03,1.04,1.05,1.06,1.07,1.08,1.09,1.1,1.11,1.12,1.13,1.14,1.15,1.16]}},
  "y2":{"field":"c"},
  "fill":{"condition":{"test":"datum.c >= datum.o","value":"#6ba583"},"value":"#d75442"},
  "stroke":{"condition":{"test":"datum.c >= datum.o","value":"#225437"},"value":"#5b1a13"}}},
{"data":{"values":[{}]},"mark":{"type":"text","align":"left","baseline":"middle","dx":6.5,"font":"Liberation Sans","fontSize":12,"color":"#555555"},
 "encoding":{"x":{"datum":"2015-11-05","type":"ordinal","axis":null},"y":{"datum":1.16497,"type":"quantitative","axis":null},"text":{"value":"EURO / US DOLLAR, D, IDC"}}},
{"data":{"values":[{}]},"mark":{"type":"text","align":"left","baseline":"middle","dx":6.5,"font":"Liberation Sans","fontSize":12,"color":"#555555"},
 "encoding":{"x":{"datum":"2015-11-05","type":"ordinal","axis":null},"y":{"datum":1.16029,"type":"quantitative","axis":null},"text":{"value":"Vol (20)"}}},
{"data":{"values":[{}]},"mark":{"type":"text","align":"left","baseline":"middle","dx":14.5,"font":"Liberation Sans","fontSize":13.5,"color":"#3bb0e2"},
 "encoding":{"x":{"datum":"2015-11-05","type":"ordinal","axis":null},"y":{"datum":1.03216,"type":"quantitative","axis":null},"text":{"value":"EURUSD chart by TradingView"}}}
]
}
